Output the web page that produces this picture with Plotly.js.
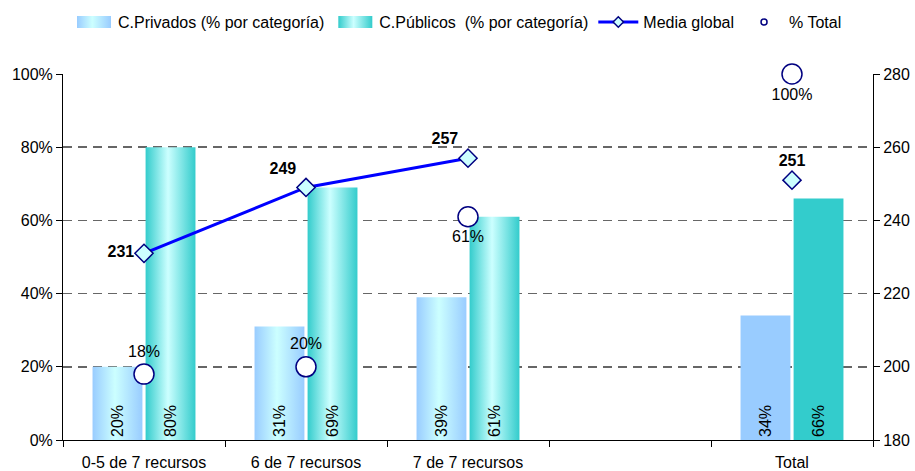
<!DOCTYPE html>
<html><head><meta charset="utf-8">
<script src="https://cdn.plot.ly/plotly-3.0.1.min.js"></script>
<style>html,body{margin:0;padding:0;background:#fff}#chart{width:915px;height:471px}</style>
</head><body><div id="chart"></div>
<script>
// ---- data ----
const categories = ["0-5 de 7 recursos", "6 de 7 recursos", "7 de 7 recursos", "", "Total"];
const xIndex = [0, 1, 2, 3, 4];
const privados = [0.20, 0.31, 0.39, null, 0.34];
const publicos = [0.80, 0.69, 0.61, null, 0.66];
const mediaX = [0, 1, 2];
const mediaGlobal = [231, 249, 257];
const mediaTotalX = [4];
const mediaTotal = [251];
const pctTotalX = [0, 1, 2, 4];
const pctTotal = [0.18, 0.20, 0.61, 1.00];
const leftTicks = [0, 0.2, 0.4, 0.6, 0.8, 1.0];
const rightTicks = [180, 200, 220, 240, 260, 280];

const FONT = "Arial, 'Liberation Sans', sans-serif";
const NAVY = "#000080";
const FS = 16;

const traces = [
  {type: "bar", name: "C.Privados (% por categoría)", x: xIndex, y: privados,
   marker: {color: "#99CCFF"}, texttemplate: "%{y:.0%}", textposition: "inside",
   insidetextanchor: "start", textangle: -90, constraintext: "none",
   insidetextfont: {family: FONT, size: FS, color: "#000"}, hoverinfo: "skip"},
  {type: "bar", name: "C.Públicos  (% por categoría)", x: xIndex, y: publicos,
   marker: {color: "#33CCCC"}, texttemplate: "%{y:.0%}", textposition: "inside",
   insidetextanchor: "start", textangle: -90, constraintext: "none",
   insidetextfont: {family: FONT, size: FS, color: "#000"}, hoverinfo: "skip"},
  {type: "scatter", mode: "lines+markers+text", name: "Media global", x: mediaX, y: mediaGlobal, yaxis: "y2",
   line: {color: "#0000FF", width: 3}, cliponaxis: false,
   marker: {symbol: "diamond", size: 14, color: "#CCFFFF", line: {color: NAVY, width: 1.5}},
   text: mediaGlobal.map(String), textposition: ["middle left", "top left", "top left"],
   textfont: {family: FONT, size: FS, color: "#000", weight: "bold"}, showlegend: false, hoverinfo: "skip"},
  {type: "scatter", mode: "markers+text", name: "Media global", x: mediaTotalX, y: mediaTotal, yaxis: "y2",
   cliponaxis: false,
   marker: {symbol: "diamond", size: 14, color: "#CCFFFF", line: {color: NAVY, width: 1.5}},
   text: mediaTotal.map(String), textposition: "top center",
   textfont: {family: FONT, size: FS, color: "#000", weight: "bold"}, showlegend: false, hoverinfo: "skip"},
  {type: "scatter", mode: "markers+text", name: "% Total", x: pctTotalX, y: pctTotal, cliponaxis: false,
   marker: {symbol: "circle", size: 20, color: "#FFFFFF", line: {color: NAVY, width: 1.5}},
   texttemplate: "%{y:.0%}", textposition: ["top center", "top center", "bottom center", "bottom center"],
   textfont: {family: FONT, size: FS, color: "#000"}, showlegend: false, hoverinfo: "skip"},
  // legend-only entries
  {type: "scatter", mode: "lines+markers", name: "Media global", x: [null], y: [null], yaxis: "y2",
   line: {color: "#0000FF", width: 3},
   marker: {symbol: "diamond", size: 8, color: "#CCFFFF", line: {color: NAVY, width: 1.5}}},
  {type: "scatter", mode: "markers", name: "% Total", x: [null], y: [null],
   marker: {symbol: "circle", size: 6, color: "#FFFFFF", line: {color: NAVY, width: 1.5}}}
];

const layout = {
  width: 915, height: 471,
  margin: {l: 63, r: 42, t: 74, b: 31},
  paper_bgcolor: "#fff", plot_bgcolor: "#fff",
  font: {family: FONT, size: FS, color: "#000"},
  barmode: "group", bargap: 0.345, bargroupgap: 0.06,
  showlegend: true,
  legend: {orientation: "h", x: 0.5, xanchor: "center", xref: "container",
           y: 0.953, yanchor: "middle", yref: "container",
           font: {family: FONT, size: FS}, traceorder: "normal", itemwidth: 40},
  xaxis: {range: [-0.5, 4.5], tickmode: "array", tickvals: xIndex, ticktext: categories,
          ticks: "", showline: true, linecolor: "#000", linewidth: 1, showgrid: false, zeroline: false,
          tickfont: {size: FS}, ticklabelstandoff: 8,
          minor: {tick0: 0.5, dtick: 1, ticks: "outside", ticklen: 6, tickcolor: "#000", showgrid: false}},
  yaxis: {range: [0, 1], tickmode: "array", tickvals: leftTicks, tickformat: ".0%",
          ticks: "outside", ticklen: 6, tickcolor: "#000", showline: true, linecolor: "#000", linewidth: 1,
          showgrid: true, gridcolor: "#666666", gridwidth: 1.5, griddash: "9px,6px", zeroline: false,
          tickfont: {size: FS}},
  yaxis2: {range: [180, 280], overlaying: "y", side: "right", tickmode: "array", tickvals: rightTicks,
           ticks: "outside", ticklen: 6, tickcolor: "#000", showline: true, linecolor: "#000", linewidth: 1,
           showgrid: false, zeroline: false, tickfont: {size: FS}}
};

function addGradient(svg, id, edge, mid) {
  const ns = "http://www.w3.org/2000/svg";
  let defs = svg.querySelector("defs");
  if (!defs) { defs = document.createElementNS(ns, "defs"); svg.insertBefore(defs, svg.firstChild); }
  const g = document.createElementNS(ns, "linearGradient");
  g.setAttribute("id", id);
  g.setAttribute("x1", "0"); g.setAttribute("y1", "0"); g.setAttribute("x2", "1"); g.setAttribute("y2", "0");
  [[0, edge], [0.45, mid], [1, edge]].forEach(([o, c]) => {
    const s = document.createElementNS(ns, "stop");
    s.setAttribute("offset", o); s.setAttribute("stop-color", c);
    g.appendChild(s);
  });
  defs.appendChild(g);
}

Plotly.newPlot("chart", traces, layout, {displayModeBar: false, staticPlot: true}).then(gd => {
  const svg = gd.querySelector(".main-svg");
  addGradient(svg, "gradPriv", "#99CCFF", "#CCFFFF");
  addGradient(svg, "gradPub", "#33CCCC", "#CCFFFF");
  const ids = ["gradPriv", "gradPub"];
  gd.querySelectorAll(".barlayer .trace").forEach((tr, ti) => {
    tr.querySelectorAll(".point").forEach(pt => {
      const d = pt.__data__;
      if (d && d.i < 3) {
        const p = pt.querySelector("path");
        if (p) p.style.fill = "url(#" + ids[ti] + ")";
      }
    });
  });
  gd.querySelectorAll(".legend .traces").forEach(tr => {
    const d = tr.__data__;
    const idx = d && d[0] && d[0].trace ? d[0].trace.index : -1;
    if (idx === 0 || idx === 1) {
      tr.querySelectorAll(".legendpoints path").forEach(p => {
        p.setAttribute("d", "M-16,-6H18V6H-16Z");
        p.style.fill = "url(#" + ids[idx] + ")";
        p.style.stroke = "none";
      });
    }
  });
});
</script>
</body></html>
